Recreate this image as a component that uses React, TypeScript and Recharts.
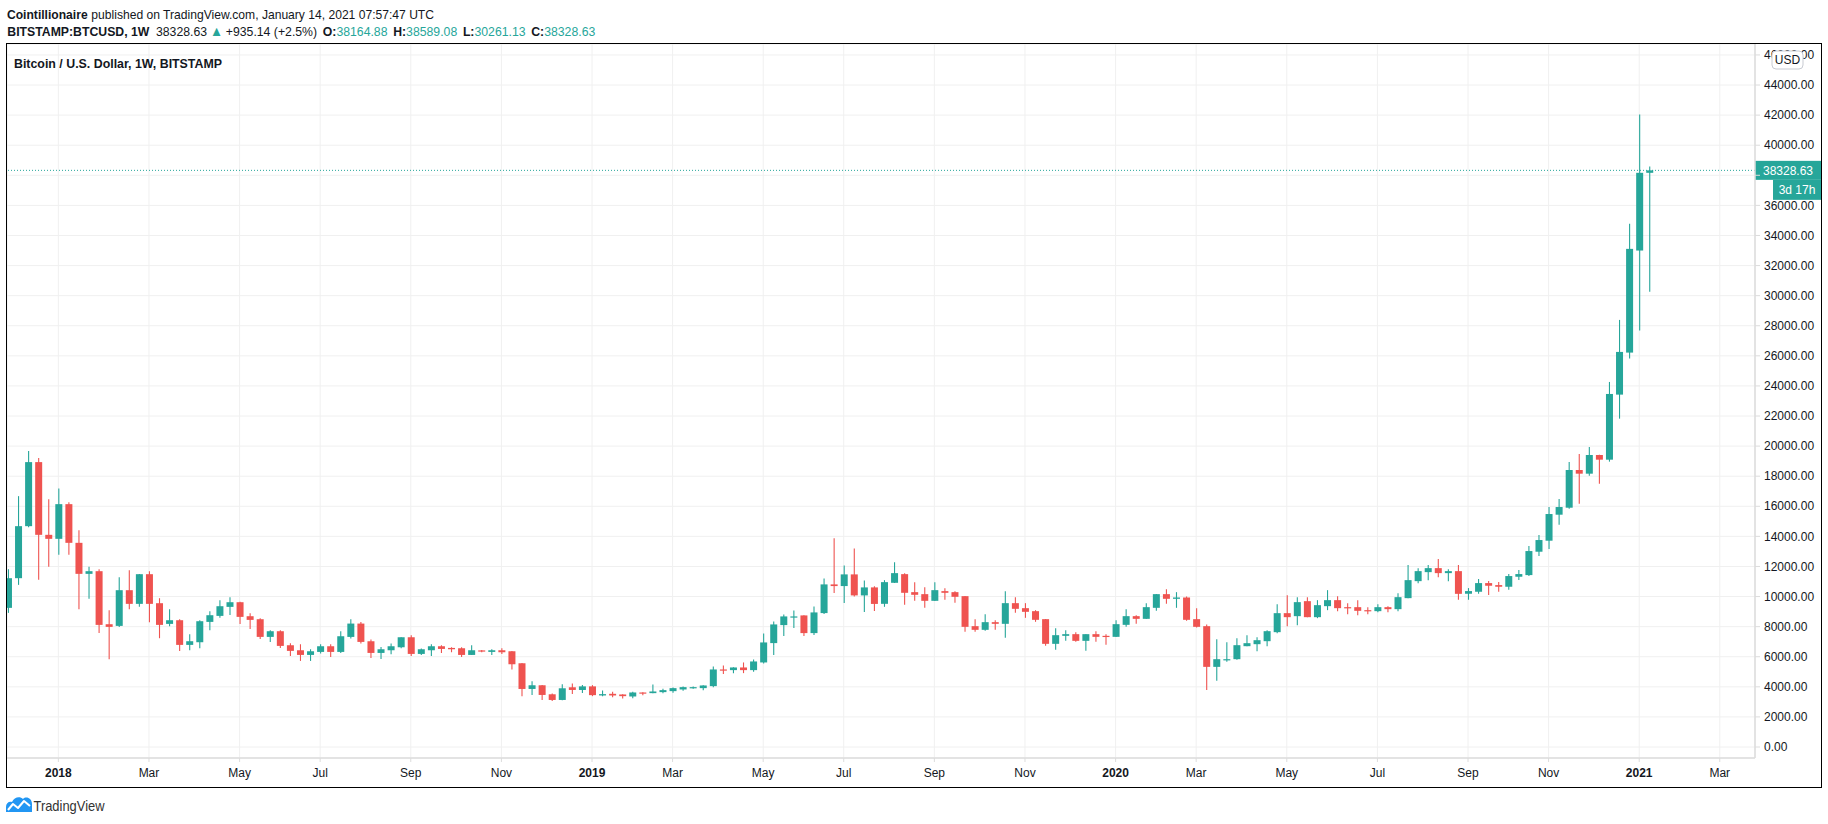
import React from "react";
import { ComposedChart, Bar, XAxis, YAxis, CartesianGrid, ReferenceLine } from "recharts";

const GREEN = "#26a69a";
const RED = "#ef5350";
const TEXT = "#131722";
const AXIS = "#dcdcdc";
const GRID = "#f0f0f0";
const FONT = "'Liberation Sans', Arial, sans-serif";

// weekly candles, first week starts 2017-11-27 (index 0), last week 2021-01-11 (index 163)
const firstWeek = "2017-11-27";

const opens = [
  // 2017
  9248, 11221, 14679, 18936, 14103,
  // 2018
  13837, 16142, 13571, 11509, 11686, 8161, 8050, 10423, 9514, 11487, 9558, 8183, 8427, 6787, 6964, 8316, 8715, 9314,
  9624, 8693, 8494, 7319, 7696, 6764, 6431, 6120, 6320, 6697, 6320, 7317, 8204, 7029, 6253, 6431, 6630, 7295, 6187,
  6431, 6697, 6586, 6564, 6120, 6420, 6320, 6431, 6364, 5566, 3859, 4103, 3504, 3127, 3970, 3790,
  // 2019
  4030, 3425, 3536, 3492, 3358, 3624, 3580, 3647, 3713, 3824, 3913, 3913, 4046, 5154, 5110, 5287, 5110, 5620, 6906,
  8103, 8635, 8746, 7571, 8901, 10808, 10697, 11473, 10076, 10608, 9517, 10914, 11490, 10293, 10160, 9716, 10360,
  10293, 10027, 8032, 7788, 8298, 8187, 9561, 9228, 9029, 8497, 6857, 7389, 7500, 7056, 7500, 7389,
  // 2020
  7322, 8120, 8697, 8519, 9251, 10160, 9850, 9938, 8497, 8032, 5327, 5792, 5837, 6701, 6834, 7034, 7633, 8896, 8697,
  9694, 8630, 9362, 9761, 9295, 9295, 9096, 9029, 9295, 9162, 9894, 11024, 11623, 11889, 11557, 11690, 10186, 10319,
  10895, 10762, 10652, 11317, 11427, 12980, 13712, 15441, 15906, 18411, 18167, 19409, 19098, 23422, 26215,
  // 2021
  32999, 38164.88,
];

const highs = [
  11819, 16674, 19667, 19202, 16475,
  17184, 16276, 14413, 11975, 11819, 9092, 11287, 11753, 11500, 11686, 9890, 9159, 8494, 7497, 8427, 9026, 9757, 9957,
  9650, 8893, 8561, 7762, 7762, 6897, 6830, 6497, 6830, 6830, 7694, 8492, 8315, 7140, 6652, 6874, 7300, 7428, 6541,
  6830, 6763, 6630, 6630, 6763, 6450, 6497, 6564, 6380, 5580, 4369, 4120, 3549, 4169, 4214, 4120,
  4112, 3758, 3669, 3500, 3669, 3640, 4157, 3868, 3957, 4024, 4024, 4100, 5354, 5420, 5300, 5620, 5819, 7549, 8347,
  8812, 9078, 8760, 9344, 11207, 13867, 12071, 13202, 11074, 10692, 11091, 12288, 11557, 10958, 10625, 10958, 10559,
  10360, 10040, 8497, 8830, 8431, 10360, 9960, 9561, 9096, 8510, 7899, 7766, 7633, 7500, 7699, 7500,
  8431, 9162, 8763, 9561, 10170, 10492, 10293, 10005, 9229, 8143, 7167, 6967, 7234, 7433, 7300, 7766, 9495, 10093, 9960,
  9960, 9761, 10426, 10027, 9561, 9761, 9295, 9495, 9362, 10226, 12089, 11889, 12089, 12488, 11823, 12090, 10563, 11161,
  11028, 10962, 11494, 11760, 13356, 14088, 15950, 16482, 18943, 19475, 19941, 19420, 24264, 28388, 34773,
  42044, 38589.08,
];

const lows = [
  8915, 10777, 14600, 11110, 11975,
  12773, 12773, 9159, 9846, 7585, 5833, 7984, 9159, 9314, 8294, 7230, 8028, 6388, 6432, 6565, 7762, 8583, 8782,
  8183, 7851, 7186, 6986, 6587, 6055, 5721, 5721, 6209, 5987, 6253, 7207, 6874, 5921, 5854, 6165, 6564, 6054, 6120,
  6054, 6253, 6298, 5987, 6120, 6300, 6120, 6187, 5145, 3371, 3460, 3127, 3061, 3110, 3526, 3585,
  3380, 3380, 3314, 3225, 3247, 3447, 3570, 3580, 3602, 3735, 3868, 3780, 3979, 4844, 4910, 4910, 4999, 5553, 6107,
  7371, 7903, 7371, 7438, 8834, 10231, 9566, 10010, 8967, 9040, 9317, 10900, 9450, 9716, 9251, 9700, 9783,
  9583, 7655, 7655, 7721, 7788, 7256, 8918, 8586, 8320, 6724, 6458, 7056, 6990, 6391, 6990, 6790,
  7310, 7987, 8187, 8510, 9051, 9517, 9251, 8386, 7943, 3797, 4396, 5659, 5792, 6690, 6369, 6701, 7566, 8032, 8098,
  8620, 8564, 9096, 9029, 8830, 8763, 8830, 8963, 8963, 9029, 9880, 10892, 11091, 11291, 11024, 9780, 9787, 10186,
  10110, 10319, 10453, 11095, 11361, 12691, 13157, 14775, 15840, 16172, 18034, 17502, 18966, 21825, 25816,
  27678, 30261.13,
];

const closes = [
  11221, 14679, 18936, 14103, 13837,
  16142, 13571, 11509, 11686, 8117, 7984, 10423, 9514, 11487, 9514, 8117, 8427, 6787, 7031, 8361, 8760, 9358, 9624,
  8649, 8449, 7319, 7696, 6720, 6388, 6120, 6364, 6697, 6320, 7362, 8204, 6985, 6253, 6497, 6697, 7295, 6187, 6497,
  6697, 6519, 6497, 6120, 6431, 6350, 6431, 6298, 5500, 3859, 4103, 3460, 3127, 3903, 3792, 4030,
  3447, 3514, 3425, 3380, 3624, 3580, 3691, 3780, 3913, 3979, 3979, 4090, 5154, 5088, 5287, 5110, 5686, 6950, 8147,
  8679, 8679, 7571, 8945, 10808, 10697, 11473, 10076, 10608, 9510, 10958, 11557, 10249, 10116, 9716, 10426, 10249,
  9983, 7987, 7788, 8298, 8187, 9561, 9184, 8985, 8453, 6857, 7433, 7500, 7056, 7500, 7322, 7322,
  8165, 8697, 8519, 9295, 10160, 9850, 9938, 8453, 7987, 5327, 5837, 5837, 6768, 6901, 7100, 7699, 8896, 8630, 9628,
  8630, 9428, 9761, 9229, 9251, 9051, 9051, 9295, 9162, 9960, 11091, 11690, 11889, 11557, 11690, 10180, 10364, 10895,
  10718, 10652, 11362, 11494, 13024, 13756, 15485, 15950, 18411, 18167, 19409, 19098, 23466, 26260, 33110,
  38165, 38328.63,
];

const tickIndex = [5, 14, 23, 31, 40, 49, 58, 66, 75, 83, 92, 101, 110, 118, 127, 136, 145, 153, 162, 170];
const tickLabels = ["2018", "Mar", "May", "Jul", "Sep", "Nov", "2019", "Mar", "May", "Jul", "Sep", "Nov", "2020", "Mar", "May", "Jul", "Sep", "Nov", "2021", "Mar"];
const priceTicks = [0, 2000, 4000, 6000, 8000, 10000, 12000, 14000, 16000, 18000, 20000, 22000, 24000, 26000, 28000, 30000, 32000, 34000, 36000, 38000, 40000, 42000, 44000, 46000];

const lastClose = 38328.63;
const countdown = "3d 17h";

const data = opens.map((o, i) => ({ i, o, h: highs[i], l: lows[i], c: closes[i], week: firstWeek }));

const Candle = (props: any) => {
  const { x, y, width, height, payload } = props;
  if (x == null || y == null) return null;
  const { o, h, l, c } = payload;
  const cx = x + width / 2;
  const top = Math.min(y, y + height);
  const bot = Math.max(y, y + height);
  const ppu = h - l > 0 ? (bot - top) / (h - l) : 0;
  const yO = top + (h - o) * ppu;
  const yC = top + (h - c) * ppu;
  const color = c >= o ? GREEN : RED;
  const bTop = Math.min(yO, yC);
  const bH = Math.max(1.2, Math.abs(yC - yO));
  return (
    <g>
      <line x1={cx} x2={cx} y1={top} y2={bot} stroke={color} strokeWidth={1.1} />
      <rect x={cx - 3.5} y={bTop} width={7} height={bH} fill={color} />
    </g>
  );
};

const XTick = (props: any) => {
  const { x, y, payload } = props;
  const k = tickIndex.indexOf(payload.value);
  const label = k >= 0 ? tickLabels[k] : "";
  const bold = /^\d{4}$/.test(label);
  return (
    <text x={x} y={y + 5} dy="0.35em" textAnchor="middle" fill={TEXT} fontSize={12} fontFamily={FONT} fontWeight={bold ? "bold" : "normal"}>
      {label}
    </text>
  );
};

const YTick = (props: any) => {
  const { x, y, payload } = props;
  if (Math.abs(payload.value - lastClose) < 1000) return null;
  return (
    <text x={x} y={y} dy="0.35em" textAnchor="start" fill={TEXT} fontSize={12} fontFamily={FONT}>
      {Number(payload.value).toFixed(2)}
    </text>
  );
};

const PriceLabel = (props: any) => {
  const vb = props.viewBox || {};
  const x0 = (vb.x || 0) + (vb.width || 0);
  const y0 = vb.y || 0;
  return (
    <g>
      <rect x={x0} y={y0 - 9.5} width={66} height={19} fill={GREEN} />
      <text x={x0 + 33} y={y0} dy="0.35em" textAnchor="middle" fill="#fff" fontSize={12} fontFamily={FONT}>
        {lastClose.toFixed(2)}
      </text>
      <rect x={x0 + 18} y={y0 + 9.5} width={48} height={20} fill={GREEN} />
      <text x={x0 + 42} y={y0 + 19.5} dy="0.35em" textAnchor="middle" fill="#fff" fontSize={12} fontFamily={FONT}>
        {countdown}
      </text>
    </g>
  );
};

export default function App() {
  return (
    <div style={{ position: "absolute", left: 0, top: 0, width: 1828, height: 824, background: "#fff", overflow: "hidden" }}>
      <div style={{ position: "absolute", left: 7, top: 44 }}>
        <ComposedChart width={1814} height={743} data={data} margin={{ top: 0, right: 0, bottom: 0, left: 0 }}>
          <CartesianGrid stroke={GRID} strokeWidth={1} />
          <XAxis
            dataKey="i"
            type="number"
            domain={[-0.1, 173.5]}
            allowDataOverflow
            ticks={tickIndex}
            interval={0}
            height={29}
            tickSize={4}
            tickMargin={6}
            axisLine={{ stroke: AXIS, strokeWidth: 1.5 }}
            tickLine={{ stroke: AXIS }}
            tick={<XTick />}
          />
          <YAxis
            orientation="right"
            type="number"
            domain={[-731, 46727]}
            allowDataOverflow
            ticks={priceTicks}
            interval={0}
            width={66}
            tickSize={5}
            tickMargin={4}
            axisLine={{ stroke: AXIS, strokeWidth: 1.5 }}
            tickLine={{ stroke: AXIS }}
            tick={<YTick />}
          />
          <Bar dataKey={(d: any) => [d.l, d.h]} shape={<Candle />} isAnimationActive={false} barSize={7} />
          <ReferenceLine y={lastClose} stroke={GREEN} strokeWidth={1} strokeDasharray="1 2" label={PriceLabel} />
        </ComposedChart>
      </div>
      <svg width={1828} height={824} style={{ position: "absolute", left: 0, top: 0, pointerEvents: "none" }}>
        <text x={7} y={19} fontFamily={FONT} fontSize={13} fill={TEXT} textLength={427} lengthAdjust="spacingAndGlyphs">
          <tspan fontWeight="bold">Cointillionaire</tspan>
          <tspan dx={4}>published on TradingView.com, January 14, 2021 07:57:47 UTC</tspan>
        </text>

        <text x={7.3} y={35.5} fontFamily={FONT} fontSize={13} fill={TEXT} textLength={588} lengthAdjust="spacingAndGlyphs">
          <tspan fontWeight="bold">BITSTAMP:BTCUSD, 1W</tspan>
          <tspan dx={7}>38328.63</tspan>
          <tspan dx={3} fill={GREEN} fontSize={14}>▲</tspan>
          <tspan dx={3}>+935.14 (+2.5%)</tspan>
          <tspan dx={6} fontWeight="bold">O:</tspan>
          <tspan fill={GREEN}>38164.88</tspan>
          <tspan dx={6} fontWeight="bold">H:</tspan>
          <tspan fill={GREEN}>38589.08</tspan>
          <tspan dx={6} fontWeight="bold">L:</tspan>
          <tspan fill={GREEN}>30261.13</tspan>
          <tspan dx={6} fontWeight="bold">C:</tspan>
          <tspan fill={GREEN}>38328.63</tspan>
        </text>

        <text x={14} y={67.5} fontFamily={FONT} fontSize={13} fontWeight="bold" fill={TEXT} textLength={208} lengthAdjust="spacingAndGlyphs">
          Bitcoin / U.S. Dollar, 1W, BITSTAMP
        </text>

        <rect x={1772} y={51} width={31} height={18} rx={4} fill="#fff" stroke="#c8cbd2" strokeWidth={1} />
        <text x={1787.5} y={60} dy="0.35em" textAnchor="middle" fontFamily={FONT} fontSize={12} fill={TEXT}>USD</text>

        <path d="M6 812 L6 807 C6 803 9 801 12 802 C14 797 20 796 23 799 C26 796 32 798 32 804 L32 812 Z" fill="#2196f3" />
        <polyline points="8,810 13,804 18,808 24,801 30,806" fill="none" stroke="#fff" strokeWidth={2} strokeLinejoin="round" />
        <text x={33.5} y={811} fontFamily={FONT} fontSize={15} fill="#333" textLength={71} lengthAdjust="spacingAndGlyphs">
          TradingView
        </text>
      </svg>
      <div
        style={{
          position: "absolute",
          left: 6,
          top: 42.5,
          width: 1816,
          height: 745.5,
          border: "1.5px solid #000",
          boxSizing: "border-box",
          pointerEvents: "none",
        }}
      />
    </div>
  );
}
